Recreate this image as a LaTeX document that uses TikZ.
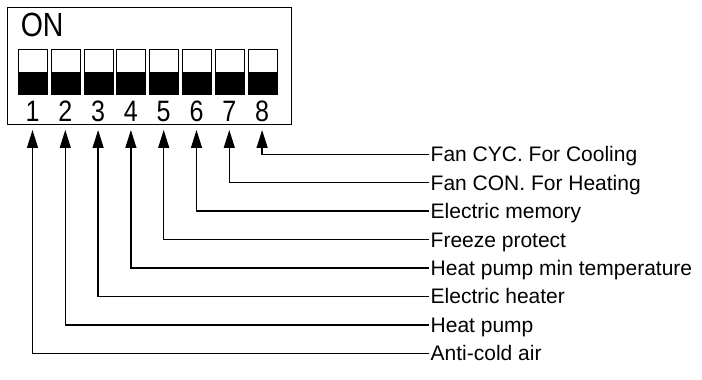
\documentclass[tikz,border=0pt]{standalone}
\usepackage{fontspec}
\setmainfont{Liberation Sans}
\newfontfamily\condfont[FakeStretch=0.85]{Liberation Sans}
\usetikzlibrary{arrows.meta}
\begin{document}
\begin{tikzpicture}[x=1pt,y=1pt,
  conn/.style={line width=1.3pt,-{Triangle[length=18pt,width=11pt]}},
  lbl/.style={anchor=west,inner xsep=1.5pt,inner ysep=0pt,text height=15pt,text depth=0pt,font=\fontsize{21}{24}\selectfont},
  digit/.style={anchor=base,inner sep=0pt,font=\condfont\fontsize{29.5}{30}\selectfont},
  swbox/.style={draw,line width=1pt,inner sep=0pt,minimum width=29pt,minimum height=45pt,anchor=north west},
  frame/.style={draw,line width=1.3pt,inner sep=0pt,minimum width=284pt,minimum height=117pt,anchor=north west}]
\useasboundingbox (0,0) rectangle (702,380);
\node[frame] (box) at (7,373) {};
\node[anchor=base west,inner sep=0pt,font=\condfont\fontsize{33.5}{34}\selectfont] (on) at (20.6,343) {ON};
\foreach \i/\t in {1/Anti-cold air,2/Heat pump,3/Electric heater,4/Heat pump min temperature,5/Freeze protect,6/Electric memory,7/Fan CON. For Heating,8/Fan CYC. For Cooling}{
  \pgfmathsetmacro{\xl}{18+(\i-1)*32.8}
  \pgfmathsetmacro{\xc}{\xl+14.5}
  \pgfmathsetmacro{\yl}{26.7+(\i-1)*28.43}
  \fill[black] (\xl,286) rectangle ({\xl+29},308);
  \node[swbox] (s\i) at (\xl,331) {};
  \node[digit] (d\i) at (\xc,258) {\i};
  \coordinate (t\i) at (\xc,250);
  \node[lbl] (l\i) at (429,\yl) {\t};
  \draw[conn] (l\i.west) -| (t\i);
}
\end{tikzpicture}
\end{document}
